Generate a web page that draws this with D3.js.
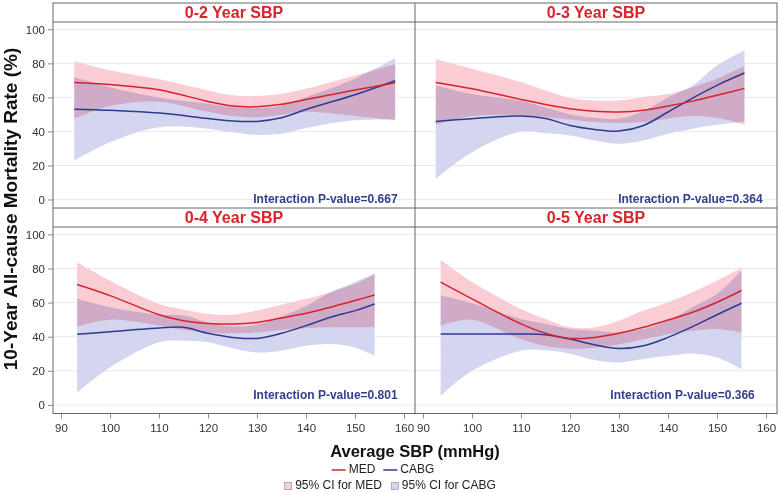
<!DOCTYPE html>
<html><head><meta charset="utf-8">
<script src="https://cdn.jsdelivr.net/npm/d3@7"></script>
<style>
body{margin:0;background:#fff}
text{font-family:"Liberation Sans",Arial,sans-serif}
</style>
</head><body>
<svg id="chart" width="780" height="493"></svg>
<script>
// ---------- data ----------
const sbpTicks = [90, 100, 110, 120, 130, 140, 150, 160];
const rateTicks = [0, 20, 40, 60, 80, 100];
const panelTitles = ["0-2 Year SBP", "0-3 Year SBP", "0-4 Year SBP", "0-5 Year SBP"];
const pValues = ["0.667", "0.364", "0.801", "0.366"];
const seriesNames = ["MED", "CABG"];
const bandNames = ["95% CI for MED", "95% CI for CABG"];

// 0-2 Year SBP
const sbp02    = [92.7, 100, 110, 120, 125, 130, 135, 140, 150, 158.2];
const med02    = [68.8, 67.6, 64.5, 57.6, 54.9, 54.5, 55.9, 58.8, 64.3, 68.6];
const medHi02  = [81.2, 75.9, 70.6, 64.1, 61.2, 60.8, 62.2, 65.1, 72.9, 79.5];
const medLo02  = [47.5, 55.0, 57.5, 51.5, 49.0, 48.3, 49.6, 51.5, 49.0, 46.5];
const cabg02   = [53.1, 52.4, 50.8, 47.6, 46.1, 45.9, 48.0, 52.9, 61.6, 69.8];
const cabgHi02 = [72.0, 66.0, 60.0, 56.3, 54.3, 53.7, 55.3, 60.2, 71.0, 83.1];
const cabgLo02 = [22.9, 33.7, 42.5, 41.6, 39.5, 38.0, 38.6, 42.0, 46.5, 47.0];

// 0-3 Year SBP
const sbp03    = [92.6, 100, 110, 115, 120, 125, 130, 135, 140, 145, 150, 155.6];
const med03    = [68.8, 65.1, 58.8, 55.8, 53.3, 51.8, 51.4, 52.4, 54.9, 57.8, 61.2, 65.3];
const medHi03  = [82.4, 76.9, 69.0, 64.0, 59.6, 58.2, 58.2, 60.2, 62.0, 66.0, 71.0, 78.4];
const medLo03  = [43.9, 49.0, 49.5, 48.5, 47.0, 45.5, 45.0, 45.5, 47.5, 49.0, 48.0, 43.9];
const cabg03   = [45.9, 47.5, 49.0, 47.6, 43.5, 41.2, 40.2, 43.5, 51.4, 59.6, 67.1, 74.3];
const cabgHi03 = [67.0, 62.0, 58.0, 54.0, 50.0, 48.0, 47.5, 52.0, 60.0, 67.0, 78.8, 87.6];
const cabgLo03 = [12.2, 27.8, 40.0, 39.0, 37.6, 34.7, 32.7, 34.7, 38.6, 41.6, 43.9, 45.9];

// 0-4 Year SBP
const sbp04    = [93.3, 100, 110, 115, 120, 125, 130, 135, 140, 145, 150, 154];
const med04    = [70.6, 64.1, 52.9, 49.4, 47.8, 47.5, 48.4, 51.0, 53.7, 57.3, 61.2, 64.5];
const medHi04  = [83.7, 72.9, 59.2, 56.0, 53.3, 52.9, 55.3, 58.8, 62.2, 66.1, 71.0, 76.5];
const medLo04  = [45.9, 50.0, 46.5, 44.0, 42.5, 42.0, 42.5, 44.0, 45.0, 45.5, 45.5, 45.5];
const cabg04   = [41.4, 42.9, 45.1, 45.5, 42.0, 39.6, 39.0, 42.0, 46.5, 51.4, 55.3, 59.2];
const cabgHi04 = [62.2, 57.3, 52.9, 52.4, 48.4, 46.0, 47.0, 52.0, 58.0, 66.0, 72.0, 77.0];
const cabgLo04 = [7.3, 22.0, 36.7, 37.6, 36.7, 33.3, 30.8, 31.8, 34.7, 35.7, 33.7, 28.8];

// 0-5 Year SBP
const sbp05    = [93.6, 100, 110, 115, 120, 125, 130, 135, 140, 145, 150, 155];
const med05    = [72.0, 62.2, 47.5, 42.0, 39.0, 39.6, 42.0, 45.5, 49.8, 54.3, 60.2, 67.1];
const medHi05  = [85.1, 72.0, 56.3, 50.4, 45.5, 45.5, 49.4, 55.3, 60.2, 66.1, 72.9, 80.4];
const medLo05  = [46.5, 50.0, 38.5, 34.5, 33.0, 33.5, 35.5, 38.5, 41.5, 43.5, 44.5, 42.5];
const cabg05   = [41.6, 41.6, 41.6, 41.2, 38.6, 35.3, 33.1, 34.7, 39.6, 45.9, 52.9, 59.6];
const cabgHi05 = [64.1, 59.6, 50.4, 47.5, 44.5, 43.5, 42.5, 44.5, 49.4, 57.3, 65.1, 78.8];
const cabgLo05 = [5.3, 20.0, 31.8, 32.0, 30.0, 26.3, 24.9, 26.9, 28.8, 30.2, 27.8, 21.0];

const panelData = [
  {x: sbp02, med: med02, medHi: medHi02, medLo: medLo02, cabg: cabg02, cabgHi: cabgHi02, cabgLo: cabgLo02},
  {x: sbp03, med: med03, medHi: medHi03, medLo: medLo03, cabg: cabg03, cabgHi: cabgHi03, cabgLo: cabgLo03},
  {x: sbp04, med: med04, medHi: medHi04, medLo: medLo04, cabg: cabg04, cabgHi: cabgHi04, cabgLo: cabgLo04},
  {x: sbp05, med: med05, medHi: medHi05, medLo: medLo05, cabg: cabg05, cabgHi: cabgHi05, cabgLo: cabgLo05}
];

// ---------- layout / style ----------
const C = {
  medLine: "#D6232B", cabgLine: "#2E3A92",
  medBand: "#FACDD5", cabgBand: "#D4D5EE",
  title: "#D8232A", pval: "#33408E",
  frame: "#666666", grid: "#e9e9e9", tick: "#8a8a8a", tickText: "#333"
};
const frame = {left: 53, right: 777, top: 3, bottom: 413.5};
const mid = 415, titleH = 19, rowSplit = 208;
const rows = [
  {titleTop: frame.top, plotTop: frame.top + titleH, plotBottom: rowSplit},
  {titleTop: rowSplit, plotTop: rowSplit + titleH, plotBottom: frame.bottom}
];
const cols = [{left: frame.left, right: mid}, {left: mid, right: frame.right}];
const xDomain = [88.37, 162.24], yDomain = [-5, 104.3];
// p-value label anchors (data units) per panel
const pAnchor = [[158.7, 0], [159.3, 0], [158.7, 5.6], [157.7, 5.6]];

const svg = d3.select("#chart");
svg.append("rect").attr("width", 780).attr("height", 493).attr("fill", "#fff");
const defs = svg.append("defs");

panelData.forEach((d, i) => {
  const r = rows[Math.floor(i / 2)], c = cols[i % 2];
  const x = d3.scaleLinear().domain(xDomain).range([c.left, c.right]);
  const y = d3.scaleLinear().domain(yDomain).range([r.plotBottom, r.plotTop]);
  const g = svg.append("g");

  defs.append("clipPath").attr("id", "clip" + i)
    .append("rect").attr("x", c.left).attr("y", r.plotTop)
    .attr("width", c.right - c.left).attr("height", r.plotBottom - r.plotTop);

  g.selectAll("line.grid").data(rateTicks).join("line")
    .attr("x1", c.left).attr("x2", c.right)
    .attr("y1", v => y(v)).attr("y2", v => y(v))
    .attr("stroke", C.grid).attr("stroke-width", 1);

  const pts = d.x.map((xv, k) => ({x: xv, med: d.med[k], medHi: d.medHi[k], medLo: d.medLo[k],
    cabg: d.cabg[k], cabgHi: d.cabgHi[k], cabgLo: d.cabgLo[k]}));
  const curve = d3.curveCatmullRom.alpha(0.5);
  const band = (lo, hi) => d3.area().curve(curve).x(p => x(p.x)).y0(p => y(p[lo])).y1(p => y(p[hi]));
  const line = key => d3.line().curve(curve).x(p => x(p.x)).y(p => y(p[key]));

  const pg = g.append("g").attr("clip-path", `url(#clip${i})`).style("isolation", "isolate");
  pg.append("path").attr("d", band("medLo", "medHi")(pts)).attr("fill", C.medBand)
    .style("mix-blend-mode", "multiply");
  pg.append("path").attr("d", band("cabgLo", "cabgHi")(pts)).attr("fill", C.cabgBand)
    .style("mix-blend-mode", "multiply");
  pg.append("path").attr("d", line("cabg")(pts)).attr("fill", "none")
    .attr("stroke", C.cabgLine).attr("stroke-width", 1.5);
  pg.append("path").attr("d", line("med")(pts)).attr("fill", "none")
    .attr("stroke", C.medLine).attr("stroke-width", 1.5);

  g.append("line").attr("x1", c.left).attr("x2", c.right)
    .attr("y1", r.plotTop).attr("y2", r.plotTop).attr("stroke", C.frame);
  g.append("text").attr("x", (c.left + c.right) / 2).attr("y", r.titleTop + titleH / 2 + 1)
    .attr("text-anchor", "middle").attr("dominant-baseline", "middle")
    .attr("font-weight", "bold").attr("font-size", 16).attr("fill", C.title)
    .text(panelTitles[i]);

  g.append("text").attr("x", x(pAnchor[i][0])).attr("y", y(pAnchor[i][1]))
    .attr("text-anchor", "end").attr("dominant-baseline", "middle")
    .attr("font-weight", "bold").attr("font-size", 12).attr("fill", C.pval)
    .text("Interaction P-value=" + pValues[i]);

  if (i % 2 === 0) {
    const ax = d3.axisLeft(y).tickValues(rateTicks).tickSize(5).tickPadding(3);
    const ag = svg.append("g").attr("transform", `translate(${c.left},0)`).call(ax);
    ag.select(".domain").remove();
    ag.selectAll("line").attr("stroke", C.tick);
    ag.selectAll("text").attr("font-size", 11.5).attr("fill", C.tickText)
      .attr("font-family", '"Liberation Sans",Arial,sans-serif');
  }
  if (i >= 2) {
    const ax = d3.axisBottom(x).tickValues(sbpTicks).tickSize(5).tickPadding(5);
    const ag = svg.append("g").attr("transform", `translate(0,${frame.bottom})`).call(ax);
    ag.select(".domain").remove();
    ag.selectAll("line").attr("stroke", C.tick);
    ag.selectAll("text").attr("font-size", 11.5).attr("fill", C.tickText)
      .attr("font-family", '"Liberation Sans",Arial,sans-serif');
  }
});

const fg = svg.append("g").attr("fill", "none").attr("stroke", C.frame);
fg.append("rect").attr("x", frame.left).attr("y", frame.top)
  .attr("width", frame.right - frame.left).attr("height", frame.bottom - frame.top);
fg.append("line").attr("x1", mid).attr("x2", mid).attr("y1", frame.top).attr("y2", frame.bottom);
fg.append("line").attr("x1", frame.left).attr("x2", frame.right).attr("y1", rowSplit).attr("y2", rowSplit);

svg.append("text").attr("transform", `translate(17,209) rotate(-90)`)
  .attr("text-anchor", "middle").attr("font-weight", "bold").attr("font-size", 19).attr("fill", "#111")
  .text("10-Year All-cause Mortality Rate (%)");
svg.append("text").attr("x", mid).attr("y", 457)
  .attr("text-anchor", "middle").attr("font-weight", "bold").attr("font-size", 16.5).attr("fill", "#111")
  .text("Average SBP (mmHg)");

// legend row 1 (lines) laid out sequentially, centred
const lg = svg.append("g").attr("font-size", 12).attr("fill", "#222");
const row1y = 470, row2y = 486;
const r1 = lg.append("g");
let cx = 0;
seriesNames.forEach((name, k) => {
  r1.append("line").attr("x1", cx).attr("x2", cx + 14).attr("y1", row1y).attr("y2", row1y)
    .attr("stroke", k === 0 ? C.medLine : C.cabgLine).attr("stroke-width", 1.5);
  const t = r1.append("text").attr("x", cx + 17).attr("y", row1y)
    .attr("dominant-baseline", "middle").text(name);
  cx += 17 + t.node().getComputedTextLength() + 8;
});
r1.attr("transform", `translate(${383 - (cx - 8) / 2},0)`);

// legend row 2 (bands)
const r2 = lg.append("g");
cx = 0;
bandNames.forEach((name, k) => {
  r2.append("rect").attr("x", cx + 0.5).attr("y", row2y - 3.5).attr("width", 7).attr("height", 7)
    .attr("fill", k === 0 ? C.medBand : C.cabgBand).attr("stroke", "#a0a0a0").attr("stroke-width", 0.8);
  const t = r2.append("text").attr("x", cx + 11).attr("y", row2y)
    .attr("dominant-baseline", "middle").text(name);
  cx += 11 + t.node().getComputedTextLength() + 9;
});
r2.attr("transform", `translate(${390 - (cx - 9) / 2},0)`);
</script>
</body></html>
